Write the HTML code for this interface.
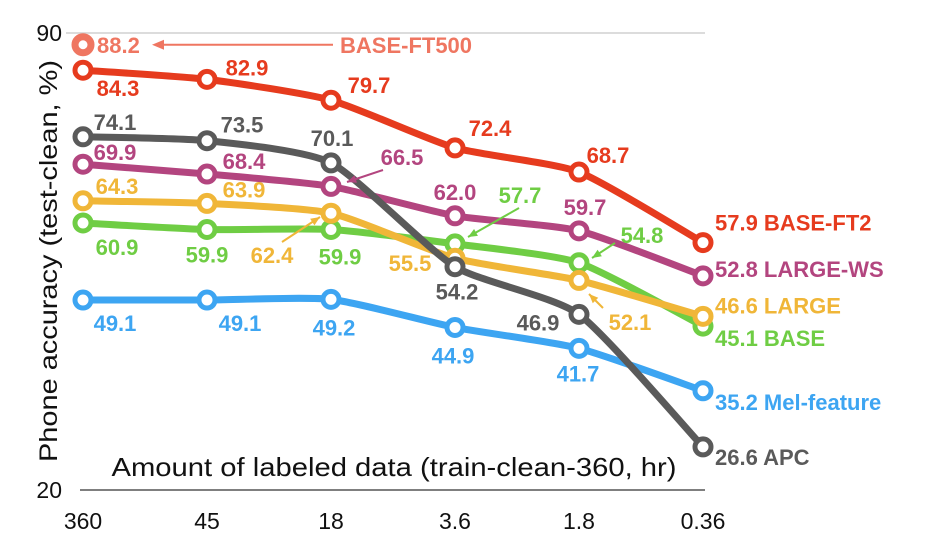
<!DOCTYPE html>
<html><head><meta charset="utf-8"><style>
html,body{margin:0;padding:0;background:#fff;}
svg{display:block;font-family:"Liberation Sans",sans-serif;}
.lbl{font-weight:bold;font-size:22px;}
</style></head><body>
<svg id="chart" width="940" height="554"></svg>
<script>
const categories = ["360","45","18","3.6","1.8","0.36"];
const yTicks = [90, 20];
const seriesNames = ["BASE-FT2","APC","LARGE-WS","LARGE","BASE","Mel-feature"];
const baseFt2 = [84.3, 82.9, 79.7, 72.4, 68.7, 57.9];
const apc = [74.1, 73.5, 70.1, 54.2, 46.9, 26.6];
const largeWs = [69.9, 68.4, 66.5, 62.0, 59.7, 52.8];
const large = [64.3, 63.9, 62.4, 55.5, 52.1, 46.6];
const base = [60.9, 59.9, 59.9, 57.7, 54.8, 45.1];
const mel = [49.1, 49.1, 49.2, 44.9, 41.7, 35.2];
const baseFt500 = [88.2];

const NS="http://www.w3.org/2000/svg";
const svg=document.getElementById('chart');
const x0=83, dx=124;
function xs(i){return x0+i*dx;}
function ys(v){return 33+(90-v)*(457/70);}
function el(tag,attrs,parent){const e=document.createElementNS(NS,tag);for(const k in attrs)e.setAttribute(k,attrs[k]);(parent||svg).appendChild(e);return e;}
function smooth(p){
  const k=0.1;
  let d='M'+p[0][0]+','+p[0][1];
  for(let i=0;i<p.length-1;i++){
    const a=p[i-1]||p[i], b=p[i], c=p[i+1], e=p[i+2]||c;
    const c1=[b[0]+(c[0]-a[0])*k, b[1]+(c[1]-a[1])*k];
    const c2=[c[0]-(e[0]-b[0])*k, c[1]-(e[1]-b[1])*k];
    d+=' C'+c1.join(',')+' '+c2.join(',')+' '+c.join(',');
  }
  return d;
}

let g=el('line',{x1:66,x2:705,y1:ys(90),y2:ys(90),stroke:'#d0d0d0','stroke-width':1.5});


let ax=el('line',{x1:80,x2:705,y1:ys(20),y2:ys(20),stroke:'#555','stroke-width':1.5});


yTicks.forEach(t=>{
  const e=el('text',{x:62,y:ys(t)+8,'text-anchor':'end','font-size':23,fill:'#111'});
  e.textContent=t;
  
  
});
categories.forEach((c,i)=>{
  const e=el('text',{x:xs(i),y:529,'text-anchor':'middle','font-size':23,fill:'#111'});
  e.textContent=c;
  
  
});
let yt=el('text',{transform:'translate(57,261) rotate(-90)','text-anchor':'middle','font-size':25,fill:'#111',textLength:402,lengthAdjust:'spacingAndGlyphs'});
yt.textContent='Phone accuracy (test-clean, %)';


let xt=el('text',{x:394,y:476,'text-anchor':'middle','font-size':26,fill:'#111',textLength:565,lengthAdjust:'spacingAndGlyphs'});
xt.textContent='Amount of labeled data (train-clean-360, hr)';



const series=[
 {name:'Mel-feature',data:mel,color:'#3da5f2',off:[[32,23],[33,23],[3,28],[-2,28],[-1,25],[12,11]]},
 {name:'BASE',data:base,color:'#6fcd44',off:[[34,24],[0,25],[9,27],null,null,[12,12]]},
 {name:'LARGE',data:large,color:'#f0b638',off:[[34,-15],[37,-14],null,[-45,5],null,[12,-11]]},
 {name:'LARGE-WS',data:largeWs,color:'#b3457f',off:[[32,-12],[37,-13],null,[0,-24],[6,-24],[12,-7]]},
 {name:'APC',data:apc,color:'#5a5a5a',off:[[32,-15],[35,-16],[1,-25],[2,25],[-41,8],[12,10]]},
 {name:'BASE-FT2',data:baseFt2,color:'#e63b1e',off:[[35,18],[40,-12],[38,-15],[35,-20],[29,-17],[12,-20]]},
];
const callouts=[
 {data:large,i:2,x:272,y:255,color:'#f0b638',ax1:282,ay1:242,ax2:320,ay2:217},
 {data:largeWs,i:2,x:402,y:157,color:'#b3457f',ax1:383,ay1:170,ax2:347,ay2:182},
 {data:base,i:3,x:520,y:195,color:'#6fcd44',ax1:519,ay1:208,ax2:468,ay2:237},
 {data:base,i:4,x:642,y:235,color:'#6fcd44',ax1:615,ay1:243,ax2:592,ay2:258},
 {data:large,i:4,x:630,y:322,color:'#f0b638',ax1:603,ay1:308,ax2:589,ay2:294},
];
series.forEach(s=>{
  const grp=el('g',{});
  
  
  const pts=s.data.map((v,i)=>[xs(i),ys(v)]);
  const pl=el('path',{d:smooth(pts),fill:'none',stroke:s.color,'stroke-width':7,'stroke-linejoin':'round'},grp);
  
  
  s.data.forEach((v,i)=>{
    const c=el('circle',{cx:xs(i),cy:ys(v),r:8,fill:'#fff',stroke:s.color,'stroke-width':5},grp);
    
    
    const o=s.off[i];
    if(!o)return;
    const last=i===s.data.length-1;
    const t=el('text',{x:xs(i)+o[0],y:ys(v)+o[1]+8,'text-anchor':last?'start':'middle',fill:s.color,class:'lbl'},grp);
    t.setAttribute('xml:space','preserve');
    t.textContent=v.toFixed(1)+(last?'  '+s.name:'');
    
    
  });
});
callouts.forEach(e=>{
  const txt=e.data[e.i].toFixed(1);
  const t=el('text',{x:e.x,y:e.y+8,'text-anchor':'middle',fill:e.color,class:'lbl'});
  t.textContent=txt;
  
  
  const l=el('line',{x1:e.ax1,y1:e.ay1,x2:e.ax2,y2:e.ay2,stroke:e.color,'stroke-width':2});
  
  
  const ang=Math.atan2(e.ay2-e.ay1,e.ax2-e.ax1);
  const p=[[e.ax2,e.ay2],[e.ax2-10*Math.cos(ang-0.4),e.ay2-10*Math.sin(ang-0.4)],[e.ax2-10*Math.cos(ang+0.4),e.ay2-10*Math.sin(ang+0.4)]];
  const h=el('polygon',{points:p.map(q=>q.join(',')).join(' '),fill:e.color});
  
  
});
const ftc='#ef7661';
const fy=ys(baseFt500[0]);
let fc=el('circle',{cx:xs(0),cy:fy,r:8,fill:'#fff',stroke:ftc,'stroke-width':7});


let ft=el('text',{x:97,y:fy+8,fill:ftc,class:'lbl'});
ft.textContent=baseFt500[0].toFixed(1);


let fl=el('line',{x1:333,y1:fy,x2:158,y2:fy,stroke:ftc,'stroke-width':2});


let fh=el('polygon',{points:`152,${fy} 164,${fy-5} 164,${fy+5}`,fill:ftc});


let fn=el('text',{x:340,y:fy+8,fill:ftc,class:'lbl'});
fn.textContent='BASE-FT500';


</script>
</body></html>
